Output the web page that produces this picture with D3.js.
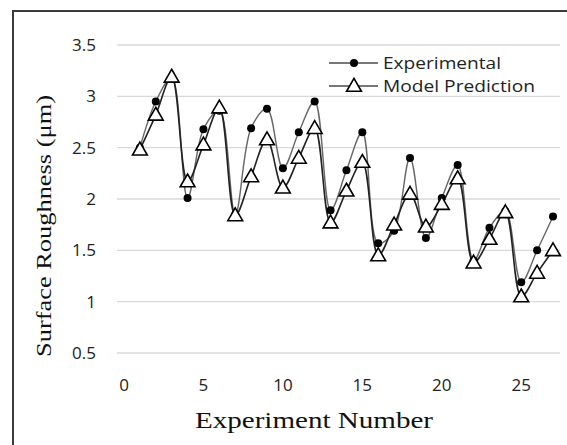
<!DOCTYPE html>
<html>
<head>
<meta charset="utf-8">
<script src="https://cdn.jsdelivr.net/npm/d3@7"></script>
<style>
  body { margin: 0; background: #fff; }
  svg { display: block; }
</style>
</head>
<body>
<svg width="567" height="445"></svg>
<script>
const experiments = d3.range(1, 28);
const experimental = [2.5, 2.95, 3.18, 2.01, 2.68, 2.86, 1.85, 2.69, 2.88, 2.3, 2.65, 2.95, 1.89, 2.28, 2.65,
    1.57, 1.69, 2.4, 1.62, 2.01, 2.33, 1.4, 1.72, 1.88, 1.19, 1.5, 1.83];
const modelPrediction = [2.48, 2.82, 3.19, 2.17, 2.53, 2.89, 1.84, 2.22, 2.58, 2.11, 2.4, 2.69, 1.77, 2.08, 2.36,
    1.45, 1.75, 2.05, 1.73, 1.95, 2.2, 1.38, 1.61, 1.87, 1.05, 1.28, 1.5];
const yTicks = [0.5, 1, 1.5, 2, 2.5, 3, 3.5];
const xTicks = [0, 5, 10, 15, 20, 25];
const seriesNames = ["Experimental", "Model Prediction"];

const svg = d3.select("svg");

const x = d3.scaleLinear().domain([0, 27]).range([124, 553]);
const y = d3.scaleLinear().domain([0.5, 3.5]).range([353, 45]);

const sans = "'Open Sans', Lato, sans-serif";
const serif = "'Liberation Serif', 'Times New Roman', serif";

// frame (only top and left edges show)
svg.append("path")
    .attr("d", "M13,445 V11 H567")
    .attr("fill", "none")
    .attr("stroke", "#3a3a3a")
    .attr("stroke-width", 2);

// gridlines
svg.append("g")
    .selectAll("line")
    .data(yTicks)
    .join("line")
    .attr("x1", 117)
    .attr("x2", 560)
    .attr("y1", d => y(d))
    .attr("y2", d => y(d))
    .attr("stroke", "#d9d9d9")
    .attr("stroke-width", 1.3);

// y tick labels
svg.append("g")
    .selectAll("text")
    .data(yTicks)
    .join("text")
    .attr("x", 96)
    .attr("y", d => y(d))
    .attr("dy", "0.35em")
    .attr("text-anchor", "end")
    .attr("font-family", sans)
    .attr("font-size", 17)
    .attr("fill", "#222")
    .text(d => d);

// x tick labels
svg.append("g")
    .selectAll("text")
    .data(xTicks)
    .join("text")
    .attr("x", d => x(d))
    .attr("y", 391)
    .attr("text-anchor", "middle")
    .attr("font-family", sans)
    .attr("font-size", 17)
    .attr("fill", "#222")
    .text(d => d);

// axis titles
svg.append("text")
    .attr("x", 195)
    .attr("y", 428)
    .attr("font-family", serif)
    .attr("font-size", 24)
    .attr("fill", "#111")
    .attr("textLength", 238)
    .attr("lengthAdjust", "spacingAndGlyphs")
    .text("Experiment Number");

svg.append("text")
    .attr("transform", "translate(51,357) rotate(-90)")
    .attr("font-family", serif)
    .attr("font-size", 22)
    .attr("fill", "#111")
    .attr("textLength", 262)
    .attr("lengthAdjust", "spacingAndGlyphs")
    .text("Surface Roughness (μm)");

const line = d3.line()
    .x((d, i) => x(experiments[i]))
    .y(d => y(d))
    .curve(d3.curveCatmullRom.alpha(0.5));

svg.append("path")
    .datum(experimental)
    .attr("d", line)
    .attr("fill", "none")
    .attr("stroke", "#666")
    .attr("stroke-width", 1.4);

svg.append("path")
    .datum(modelPrediction)
    .attr("d", line)
    .attr("fill", "none")
    .attr("stroke", "#222")
    .attr("stroke-width", 1.6);

const tri = d3.symbol().type(d3.symbolTriangle).size(95);

svg.append("g")
    .selectAll("circle")
    .data(experimental)
    .join("circle")
    .attr("cx", (d, i) => x(experiments[i]))
    .attr("cy", d => y(d))
    .attr("r", 4)
    .attr("fill", "#000");

svg.append("g")
    .selectAll("path")
    .data(modelPrediction)
    .join("path")
    .attr("d", tri)
    .attr("transform", (d, i) => `translate(${x(experiments[i])},${y(d) + 1})`)
    .attr("fill", "#fff")
    .attr("stroke", "#000")
    .attr("stroke-width", 1.6);

// legend
const legend = svg.append("g");
const legendY = [63, 86];
const legendWidth = [118, 152];
legend.selectAll("line")
    .data(seriesNames)
    .join("line")
    .attr("x1", 329)
    .attr("x2", 378)
    .attr("y1", (d, i) => legendY[i])
    .attr("y2", (d, i) => legendY[i])
    .attr("stroke", "#777")
    .attr("stroke-width", 2);
legend.append("circle")
    .attr("cx", 354)
    .attr("cy", legendY[0])
    .attr("r", 4)
    .attr("fill", "#000");
legend.append("path")
    .attr("d", tri)
    .attr("transform", `translate(354,${legendY[1] + 1})`)
    .attr("fill", "#fff")
    .attr("stroke", "#000")
    .attr("stroke-width", 1.6);
legend.selectAll("text")
    .data(seriesNames)
    .join("text")
    .attr("x", 383)
    .attr("y", (d, i) => legendY[i])
    .attr("dy", "0.35em")
    .attr("font-family", sans)
    .attr("font-size", 16)
    .attr("fill", "#222")
    .attr("textLength", (d, i) => legendWidth[i])
    .attr("lengthAdjust", "spacingAndGlyphs")
    .text(d => d);
</script>
</body>
</html>
